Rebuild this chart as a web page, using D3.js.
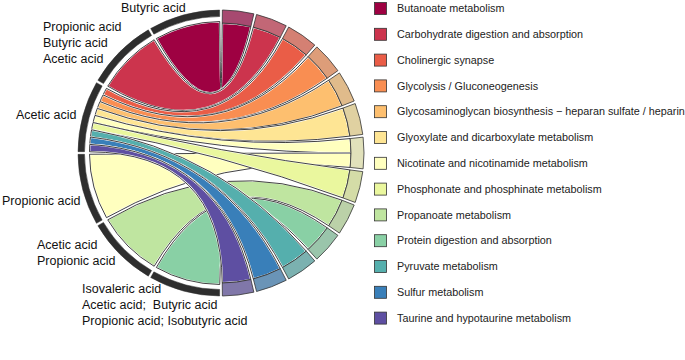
<!DOCTYPE html>
<html>
<head>
<meta charset="utf-8">
<script src="https://cdn.jsdelivr.net/npm/d3@7"></script>
<style>
  body { margin: 0; background: #fff; }
  svg { font-family: "Liberation Sans", Arial, sans-serif; }
</style>
</head>
<body>
<svg id="drawing_region"></svg>
<script>
// pathways on the right half, clockwise from the top (legend order)
const pathways = [
    "Butanoate metabolism",
    "Carbohydrate digestion and absorption",
    "Cholinergic synapse",
    "Glycolysis / Gluconeogenesis",
    "Glycosaminoglycan biosynthesis \u2212 heparan sulfate / heparin",
    "Glyoxylate and dicarboxylate metabolism",
    "Nicotinate and nicotinamide metabolism",
    "Phosphonate and phosphinate metabolism",
    "Propanoate metabolism",
    "Protein digestion and absorption",
    "Pyruvate metabolism",
    "Sulfur metabolism",
    "Taurine and hypotaurine metabolism"
];

// SCFA groups on the left half, from the top going counter-clockwise
const groupLabels = [
    ["Butyric acid"],
    ["Propionic acid", "Butyric acid", "Acetic acid"],
    ["Acetic acid"],
    ["Propionic acid"],
    ["Acetic acid", "Propionic acid"],
    ["Isovaleric acid", "Acetic acid;  Butyric acid", "Propionic acid; Isobutyric acid"]
];
const groups = groupLabels.map(d => d.join("; "));

// links: group index -> pathway index (each sector is scaled to the same width)
const linkFrom = [0, 1, 2, 2, 2, 2, 2, 3, 2, 4, 5, 2, 2, 2];
const linkTo   = [0, 1, 2, 3, 4, 5, 6, 6, 7, 8, 9, 10, 11, 12];

// RColorBrewer Spectral, ramped to the number of pathways
const spectral = ["#9E0142", "#D53E4F", "#F46D43", "#FDAE61", "#FEE08B", "#FFFFBF",
                  "#E6F598", "#ABDDA4", "#66C2A5", "#3288BD", "#5E4FA2"];

const config = {
    width: 685,
    height: 360,
    cx: 221,
    cy: 153,
    rOuter: 143,
    rBand: 130,
    rTrack: 136.5,
    rChordLeft: 131.5,
    rChordRight: 130,
    gapDeg: 1.1
};

// label block placement (left edge, first line centre)
const labelLayout = [
    {x: 121, y: 8},
    {x: 43, y: 27},
    {x: 16, y: 115},
    {x: 2, y: 201},
    {x: 37, y: 245},
    {x: 82, y: 289}
];

const svg = d3.select('#drawing_region')
    .attr('width', config.width)
    .attr('height', config.height);

const color = d3.scaleOrdinal()
    .domain(pathways)
    .range(d3.quantize(d3.piecewise(d3.interpolateRgb, spectral), pathways.length));

const gap = config.gapDeg * Math.PI / 180;

const rightScale = d3.scaleBand()
    .domain(pathways)
    .range([0, Math.PI]);
const stepR = Math.PI / pathways.length;
rightScale.paddingInner(gap / stepR).paddingOuter(gap / stepR / 2);

const leftScale = d3.scaleBand()
    .domain(groups)
    .range([2 * Math.PI, Math.PI]);
const stepL = Math.PI / groups.length;
leftScale.paddingInner(gap / stepL).paddingOuter(gap / stepL / 2);

const links = linkFrom.map((g, i) => ({ g: g, p: linkTo[i] }));

// position of each link end inside its sector
links.forEach(l => {
    // group side: ordered by pathway descending (clockwise)
    const gl = links.filter(d => d.g === l.g).sort((a, b) => b.p - a.p);
    const gi = gl.indexOf(l);
    const g0 = leftScale(groups[l.g]);
    const gw = leftScale.bandwidth() / gl.length;
    l.source = { startAngle: g0 + gi * gw, endAngle: g0 + (gi + 1) * gw, radius: config.rChordLeft };

    // pathway side: ordered by group ascending (clockwise)
    const pl = links.filter(d => d.p === l.p).sort((a, b) => a.g - b.g);
    const pi = pl.indexOf(l);
    const p0 = rightScale(pathways[l.p]);
    const pw = rightScale.bandwidth() / pl.length;
    l.target = { startAngle: p0 + pi * pw, endAngle: p0 + (pi + 1) * pw, radius: config.rChordRight };
});

const chart = svg.append('g')
    .attr('transform', `translate(${config.cx}, ${config.cy})`);

const ribbon = d3.ribbon().radius(d => d.radius);

// chords, drawn in pathway order
links.slice().sort((a, b) => a.p - b.p || a.g - b.g).forEach(l => {
    const d = ribbon(l);
    chart.append('path')
        .attr('d', d)
        .attr('fill', color(pathways[l.p]))
        .attr('stroke', '#fff')
        .attr('stroke-width', 1.8);
    chart.append('path')
        .attr('d', d)
        .attr('fill', 'none')
        .attr('stroke', '#111')
        .attr('stroke-width', 0.8);
});

// pathway bands
const bandArc = d3.arc()
    .innerRadius(config.rBand)
    .outerRadius(config.rOuter);

chart.selectAll('.band')
    .data(pathways)
    .enter()
    .append('path')
    .attr('class', 'band')
    .attr('d', p => bandArc({ startAngle: rightScale(p), endAngle: rightScale(p) + rightScale.bandwidth() }))
    .attr('fill', p => d3.interpolateRgb(color(p), '#b4b4b4')(0.4))
    .attr('stroke', '#333')
    .attr('stroke-width', 0.8);

// group tracks
const trackArc = d3.arc()
    .innerRadius(config.rTrack)
    .outerRadius(config.rOuter);

chart.selectAll('.track')
    .data(groups)
    .enter()
    .append('path')
    .attr('class', 'track')
    .attr('d', g => trackArc({ startAngle: leftScale(g), endAngle: leftScale(g) + leftScale.bandwidth() }))
    .attr('fill', '#2e2e2e')
    .attr('stroke', '#2e2e2e')
    .attr('stroke-width', 0.5);

// group labels
const lineHeight = 16;
groupLabels.forEach((lines, i) => {
    const t = svg.append('text')
        .attr('font-size', '12.5px')
        .attr('fill', '#111');
    lines.forEach((s, j) => {
        t.append('tspan')
            .attr('x', labelLayout[i].x)
            .attr('y', labelLayout[i].y + j * lineHeight)
            .attr('dy', '0.35em')
            .style('white-space', 'pre')
            .text(s);
    });
});

// legend
const legendY = d3.scalePoint()
    .domain(pathways)
    .range([8.5, 8.5 + 25.8 * (pathways.length - 1)]);

const legend = svg.append('g');

legend.selectAll('rect')
    .data(pathways)
    .enter()
    .append('rect')
    .attr('x', 374.5)
    .attr('y', p => legendY(p) - 6)
    .attr('width', 12)
    .attr('height', 12)
    .attr('fill', p => color(p))
    .attr('stroke', '#333')
    .attr('stroke-width', 0.8);

legend.selectAll('text')
    .data(pathways)
    .enter()
    .append('text')
    .attr('x', 397)
    .attr('y', p => legendY(p))
    .attr('dy', '0.35em')
    .attr('font-size', '10.8px')
    .attr('fill', '#222')
    .text(p => p);
</script>
</body>
</html>
